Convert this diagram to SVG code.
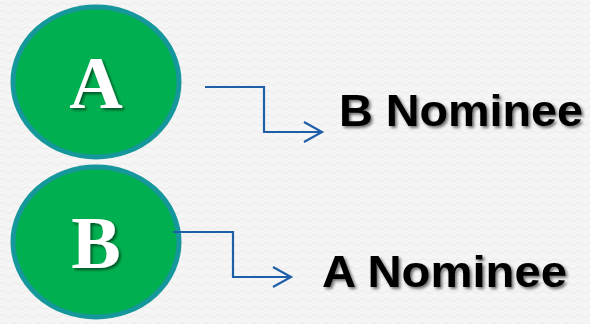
<svg xmlns="http://www.w3.org/2000/svg" width="590" height="324" viewBox="0 0 590 324">
  <defs>
    <pattern id="bg" width="12" height="8" patternUnits="userSpaceOnUse">
      <rect width="12" height="8" fill="#f5f5f5"/>
      <path d="M0 4 Q3 1 6 4 T12 4" fill="none" stroke="#e9e9e9" stroke-width="1"/>
    </pattern>
    <filter id="sh" x="-20%" y="-20%" width="140%" height="140%">
      <feDropShadow dx="2" dy="2" stdDeviation="1.5" flood-color="#000" flood-opacity="0.55"/>
    </filter>
    <marker id="arr" markerWidth="22" markerHeight="24" refX="19" refY="11" orient="auto" markerUnits="userSpaceOnUse">
      <path d="M1 1 L19 11 L1 21" fill="none" stroke="#1f5fa8" stroke-width="2.2"/>
    </marker>
    <style>
      .node{fill:#00b050;stroke:#15979c;stroke-width:5}
      .letter{font-family:"Liberation Serif",serif;font-weight:bold;font-size:74px;fill:#fff;text-anchor:middle}
      .label{font-family:"Liberation Sans",Arial,sans-serif;font-weight:bold;font-size:44px;fill:#000}
      .conn{fill:none;stroke:#1f5fa8;stroke-width:2.2}
    </style>
  </defs>
  <rect width="590" height="324" fill="url(#bg)"/>
  <g id="nodeA">
    <ellipse class="node" cx="96" cy="82" rx="83" ry="75"/>
    <text class="letter" x="96" y="108" filter="url(#sh)">A</text>
  </g>
  <g id="nodeB">
    <ellipse class="node" cx="96" cy="242" rx="83" ry="75"/>
    <text class="letter" x="96" y="268" filter="url(#sh)">B</text>
  </g>
  <g id="labelB">
    <text class="label" x="339" y="126" textLength="244" lengthAdjust="spacingAndGlyphs" filter="url(#sh)">B Nominee</text>
  </g>
  <g id="labelA">
    <text class="label" x="322" y="287" textLength="245" lengthAdjust="spacingAndGlyphs" filter="url(#sh)">A Nominee</text>
  </g>
  <g id="connectors">
    <path class="conn" d="M205 87 H264 V132 H322" marker-end="url(#arr)"/>
    <path class="conn" d="M173 232 H233 V277 H291" marker-end="url(#arr)"/>
  </g>
</svg>
